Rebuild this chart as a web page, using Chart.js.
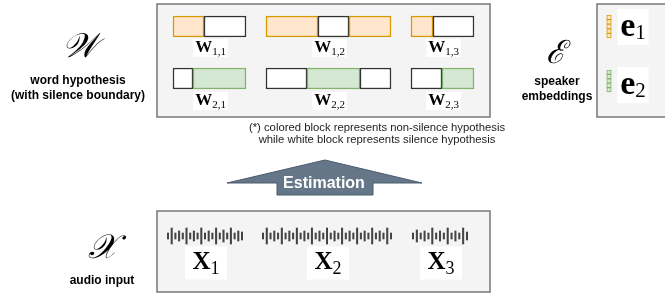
<!DOCTYPE html>
<html>
<head>
<meta charset="utf-8">
<script src="https://cdn.jsdelivr.net/npm/chart.js@4.4.0/dist/chart.umd.min.js"></script>
<style>
  html, body { margin: 0; padding: 0; background: #fff; }
  canvas { display: block; }
</style>
</head>
<body>
<canvas id="myChart" width="665" height="294"></canvas>
<script>
// word hypotheses per speaker, x = time (same units as the audio row)
var spk1Segments = [[173, 204], [204, 246], [266, 318], [318, 349], [349, 391], [411, 433], [433, 474]];
var spk1Speech = [1, 0, 1, 0, 1, 1, 0];
var spk2Segments = [[173, 193], [193, 246], [266, 307], [307, 360], [360, 391], [411, 442], [442, 474]];
var spk2Speech = [0, 1, 0, 1, 0, 0, 1];
var wordSpans = [[173, 246], [266, 391], [411, 474]];
var wordSubs1 = ['1,1', '1,2', '1,3'];
var wordSubs2 = ['2,1', '2,2', '2,3'];

// audio segments and their waveform envelopes (half amplitude)
var audioSpans = [[168, 242], [263, 391], [413, 467]];
var audioSubs = ['1', '2', '3'];
var wave1 = [3, 8, 3, 5, 3, 8, 3, 5, 3, 8, 3, 5, 3, 8, 3, 6, 3, 8, 3, 5, 4];
var wave2 = [3, 8, 3, 5, 3, 8, 3, 5, 3, 8, 3, 5, 3, 8, 3, 5, 3, 8, 3, 5, 3, 8, 3, 5, 3, 8, 3, 5, 3, 8, 3, 5, 3, 8, 3];
var wave3 = [3, 6, 3, 5, 3, 8, 3, 5, 3, 8, 3, 5, 3, 8, 4];

// speaker embeddings
var speakerSubs = ['1', '2'];
var embDim = 5;

var rowY = [26.5, 78.5];
var waveY = 236;
var embX = 609;
var embSpans = [[15, 38], [70, 92]];
var orangeFill = '#ffe6cc', orangeLine = '#d79b00';
var greenFill = '#d5e8d4', greenLine = '#82b366';

var wData = [], wBg = [], wBorder = [];
spk1Segments.forEach(function (s, i) {
    wData.push({ x: s, y: rowY[0] });
    wBg.push(spk1Speech[i] ? orangeFill : '#ffffff');
    wBorder.push(spk1Speech[i] ? orangeLine : '#333333');
});
spk2Segments.forEach(function (s, i) {
    wData.push({ x: s, y: rowY[1] });
    wBg.push(spk2Speech[i] ? greenFill : '#ffffff');
    wBorder.push(spk2Speech[i] ? greenLine : '#333333');
});

var tData = [];
[wave1, wave2, wave3].forEach(function (w, k) {
    var a = audioSpans[k][0], b = audioSpans[k][1];
    var step = (b - a) / (w.length - 1);
    w.forEach(function (amp, i) {
        tData.push({ x: a + i * step, y: [waveY - amp, waveY + amp] });
    });
});

var eData = [], eBg = [], eBorder = [];
embSpans.forEach(function (sp, k) {
    var h = (sp[1] - sp[0]) / embDim;
    for (var i = 0; i < embDim; i++) {
        eData.push({ x: embX, y: [sp[0] + i * h, sp[0] + (i + 1) * h] });
        eBg.push(k == 0 ? orangeFill : greenFill);
        eBorder.push(k == 0 ? orangeLine : greenLine);
    }
});

function hidden(axis, max, rev) {
    return { type: 'linear', axis: axis, display: false, min: 0, max: max, reverse: rev, offset: false, grid: { display: false } };
}

function subLabel(ctx, main, sub, cx, cy, mainFont, subFont, drop, boxW, boxH) {
    ctx.font = mainFont;
    var w1 = ctx.measureText(main).width;
    ctx.font = subFont;
    var w2 = ctx.measureText(sub).width;
    var bw = Math.max(boxW, w1 + w2 + 4);
    ctx.fillStyle = '#ffffff';
    ctx.fillRect(cx - bw / 2, cy - boxH / 2, bw, boxH);
    var x0 = cx - (w1 + w2) / 2;
    ctx.fillStyle = '#000000';
    ctx.textAlign = 'left';
    ctx.textBaseline = 'middle';
    ctx.font = mainFont;
    ctx.fillText(main, x0, cy);
    ctx.font = subFont;
    ctx.fillText(sub, x0 + w1, cy + drop);
}

var diagram = {
    id: 'diagram',
    beforeDatasetsDraw: function (chart) {
        var ctx = chart.ctx;
        ctx.save();
        ctx.fillStyle = '#f4f4f4';
        ctx.strokeStyle = '#777777';
        ctx.lineWidth = 1.5;
        [[157, 4, 333, 113], [597, 4, 80, 113], [157, 211, 333, 81]].forEach(function (r) {
            ctx.fillRect(r[0], r[1], r[2], r[3]);
            ctx.strokeRect(r[0], r[1], r[2], r[3]);
        });
        // arrow
        ctx.beginPath();
        ctx.moveTo(277, 195); ctx.lineTo(277, 183); ctx.lineTo(227, 183);
        ctx.lineTo(325, 160); ctx.lineTo(422, 183); ctx.lineTo(373, 183);
        ctx.lineTo(373, 195); ctx.closePath();
        ctx.fillStyle = '#647687';
        ctx.fill();
        ctx.strokeStyle = '#4a5a6a';
        ctx.lineWidth = 1;
        ctx.stroke();
        ctx.restore();
    },
    afterDatasetsDraw: function (chart) {
        var ctx = chart.ctx;
        var xs = chart.scales.x;
        ctx.save();
        wordSpans.forEach(function (sp, i) {
            var cx = xs.getPixelForValue((sp[0] + sp[1]) / 2) + 1;
            subLabel(ctx, 'W', wordSubs1[i], cx, 48, 'bold 17px "Liberation Serif"', '11px "Liberation Serif"', 4, 34, 18);
            subLabel(ctx, 'W', wordSubs2[i], cx, 101, 'bold 17px "Liberation Serif"', '11px "Liberation Serif"', 4, 34, 18);
        });
        audioSpans.forEach(function (sp, i) {
            var cx = xs.getPixelForValue((sp[0] + sp[1]) / 2) + 1;
            subLabel(ctx, 'X', audioSubs[i], cx, 263, 'bold 25px "Liberation Serif"', '18px "Liberation Serif"', 6, 42, 33);
        });
        speakerSubs.forEach(function (s, i) {
            subLabel(ctx, 'e', s, 633, i == 0 ? 27 : 85, 'bold 34px "Liberation Serif"', '21px "Liberation Serif"', 6, 31, 36);
        });

        ctx.fillStyle = '#000000';
        ctx.textAlign = 'center';
        ctx.textBaseline = 'middle';
        ctx.font = 'italic 34px "DejaVu Serif"';
        ctx.fillText('\uD835\uDCB2', 80, 48);
        ctx.font = 'italic 32px "DejaVu Serif"';
        ctx.fillText('\u2130', 555, 55);
        ctx.font = 'italic 34px "DejaVu Serif"';
        ctx.fillText('\uD835\uDCB3', 102, 249);

        ctx.font = 'bold 12px "Liberation Sans"';
        ctx.fillText('word hypothesis', 78, 81);
        ctx.fillText('(with silence boundary)', 78, 96);
        ctx.fillText('speaker', 557, 82);
        ctx.fillText('embeddings', 557, 97);
        ctx.fillText('audio input', 102, 281);

        ctx.font = '11.3px "Liberation Sans"';
        ctx.fillStyle = '#222222';
        ctx.fillText('(*) colored block represents non-silence hypothesis', 377, 128);
        ctx.fillText('while white block represents silence hypothesis', 377, 140);

        ctx.font = 'bold 16px "Liberation Sans"';
        ctx.fillStyle = '#ffffff';
        ctx.fillText('Estimation', 324, 184);
        ctx.restore();
    }
};

var ctx = document.getElementById('myChart').getContext('2d');
var myChart = new Chart(ctx, {
    type: 'bar',
    data: {
        datasets: [{
            indexAxis: 'y',
            xAxisID: 'x', yAxisID: 'y',
            data: wData,
            backgroundColor: wBg,
            borderColor: wBorder,
            borderWidth: 1.5,
            borderSkipped: false,
            grouped: false,
            barThickness: 21
        }, {
            indexAxis: 'x',
            xAxisID: 'x2', yAxisID: 'y2',
            data: tData,
            backgroundColor: '#444444',
            borderWidth: 0,
            grouped: false,
            barThickness: 1.4
        }, {
            indexAxis: 'x',
            xAxisID: 'x3', yAxisID: 'y3',
            data: eData,
            backgroundColor: eBg,
            borderColor: eBorder,
            borderWidth: 1,
            borderSkipped: false,
            grouped: false,
            barThickness: 4.5
        }]
    },
    options: {
        responsive: false,
        animation: false,
        events: [],
        layout: { padding: 0 },
        plugins: { legend: { display: false }, tooltip: { enabled: false } },
        scales: {
            x: hidden('x', 665, false), y: hidden('y', 294, true),
            x2: hidden('x', 665, false), y2: hidden('y', 294, true),
            x3: hidden('x', 665, false), y3: hidden('y', 294, true)
        }
    },
    plugins: [diagram]
});
</script>
</body>
</html>
